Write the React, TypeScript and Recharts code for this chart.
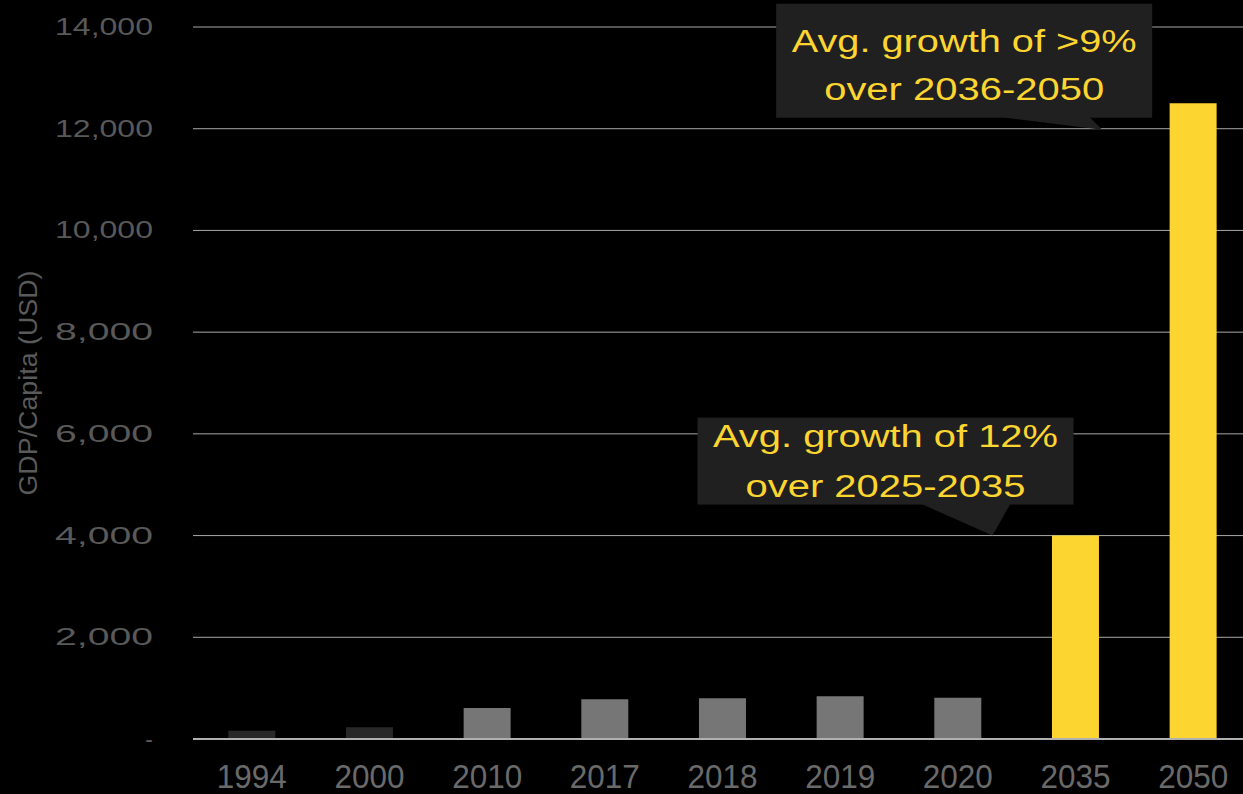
import React from 'react';
import { BarChart, Bar, XAxis, YAxis, CartesianGrid, Cell, ReferenceDot } from 'recharts';

// GDP per capita, USD
const YEARS = ['1994', '2000', '2010', '2017', '2018', '2019', '2020', '2035', '2050'];
const GDP_PER_CAPITA = [160, 230, 610, 780, 800, 840, 810, 4000, 12500];
const PROJECTED_YEARS = ['2035', '2050'];
const Y_TICKS = [0, 2000, 4000, 6000, 8000, 10000, 12000, 14000];

const CALLOUT_1 = ['Avg. growth of 12%', 'over 2025-2035'];
const CALLOUT_2 = ['Avg. growth of >9%', 'over 2036-2050'];

const data = YEARS.map((year, i) => ({ year, value: GDP_PER_CAPITA[i] }));

const FONT = '"Liberation Sans", Arial, Helvetica, sans-serif';
const YELLOW = '#FDD530';

const barColor = (year: string) => {
  if (PROJECTED_YEARS.includes(year)) return YELLOW;
  if (Number(year) < 2010) return '#282828';
  return '#767676';
};

const fmtY = (v: number) => (v === 0 ? '-' : v.toLocaleString('en-US'));

const YTick = (props: any) => {
  const { x, y, payload } = props;
  const label = fmtY(payload.value);
  const isDash = payload.value === 0;
  return (
    <text
      x={x - 32}
      y={y + 8}
      textAnchor="end"
      fill="#595959"
      fontFamily={FONT}
      fontSize={23}
      textLength={isDash ? undefined : 98}
      lengthAdjust="spacingAndGlyphs"
    >
      {label}
    </text>
  );
};

const XTick = (props: any) => {
  const { x, y, payload } = props;
  return (
    <text
      x={x}
      y={y + 41}
      textAnchor="middle"
      fill="#6a6a6a"
      fontFamily={FONT}
      fontSize={34}
      textLength={70}
      lengthAdjust="spacingAndGlyphs"
    >
      {payload.value}
    </text>
  );
};

const YTitle = (props: any) => {
  const { viewBox } = props;
  const cx = 28;
  const cy = viewBox.y + viewBox.height / 2;
  return (
    <text
      x={cx}
      y={cy}
      transform={`rotate(-90, ${cx}, ${cy})`}
      textAnchor="middle"
      dominantBaseline="central"
      fill="#5a5a5a"
      fontFamily={FONT}
      fontSize={25}
      textLength={225}
      lengthAdjust="spacingAndGlyphs"
    >
      GDP/Capita (USD)
    </text>
  );
};

// callout box with a pointer, drawn relative to the anchor point
const makeCallout = (
  lines: string[],
  box: { x0: number; x1: number; y0: number; y1: number },
  pointer: [number, number][],
  baselines: [number, number],
) => (props: any) => {
  const { cx, cy } = props;
  if (cx == null || cy == null) return <g />;
  const pts = pointer.map(([px, py]) => `${cx + px},${cy + py}`).join(' ');
  const midX = cx + (box.x0 + box.x1) / 2;
  return (
    <g>
      <polygon points={pts} fill="#202020" />
      <rect x={cx + box.x0} y={cy + box.y0} width={box.x1 - box.x0} height={box.y1 - box.y0} fill="#202020" />
      {lines.map((t, i) => (
        <text
          key={i}
          x={midX}
          y={cy + box.y0 + baselines[i]}
          textAnchor="middle"
          fill={YELLOW}
          fontFamily={FONT}
          fontSize={31}
          textLength={i === 0 ? 345 : 280}
          lengthAdjust="spacingAndGlyphs"
        >
          {t}
        </text>
      ))}
    </g>
  );
};

const Callout1 = makeCallout(
  CALLOUT_1,
  { x0: -378, x1: -2, y0: -118, y1: -31 },
  [[-155, -32], [-83, 0], [-65, -32]],
  [29, 79],
);

const Callout2 = makeCallout(
  CALLOUT_2,
  { x0: -417, x1: -41, y0: -125, y1: -11 },
  [[-195, -12], [-91, 1], [-104, -12]],
  [48, 96],
);

export default function App() {
  return (
    <div style={{ position: 'absolute', left: 0, top: 0, width: 1243, height: 794, background: '#000', overflow: 'hidden' }}>
      <BarChart
        width={1252}
        height={794}
        data={data}
        margin={{ top: 27, right: 0, bottom: 0, left: 0 }}
        barCategoryGap="30%"
      >
        <CartesianGrid vertical={false} stroke="#a8a8a8" strokeWidth={1} />
        <XAxis
          dataKey="year"
          height={55}
          axisLine={{ stroke: '#b0b0b0', strokeWidth: 2 }}
          tickLine={false}
          tick={<XTick />}
          interval={0}
        />
        <YAxis
          width={193}
          domain={[0, 14000]}
          ticks={Y_TICKS}
          axisLine={false}
          tickLine={false}
          tick={<YTick />}
          interval={0}
          label={<YTitle />}
        />
        <Bar dataKey="value" isAnimationActive={false}>
          {data.map((d) => (
            <Cell key={d.year} fill={barColor(d.year)} />
          ))}
        </Bar>
        <ReferenceDot x="2035" y={4000} ifOverflow="visible" shape={Callout1} />
        <ReferenceDot x="2050" y={12000} ifOverflow="visible" shape={Callout2} />
      </BarChart>
    </div>
  );
}
